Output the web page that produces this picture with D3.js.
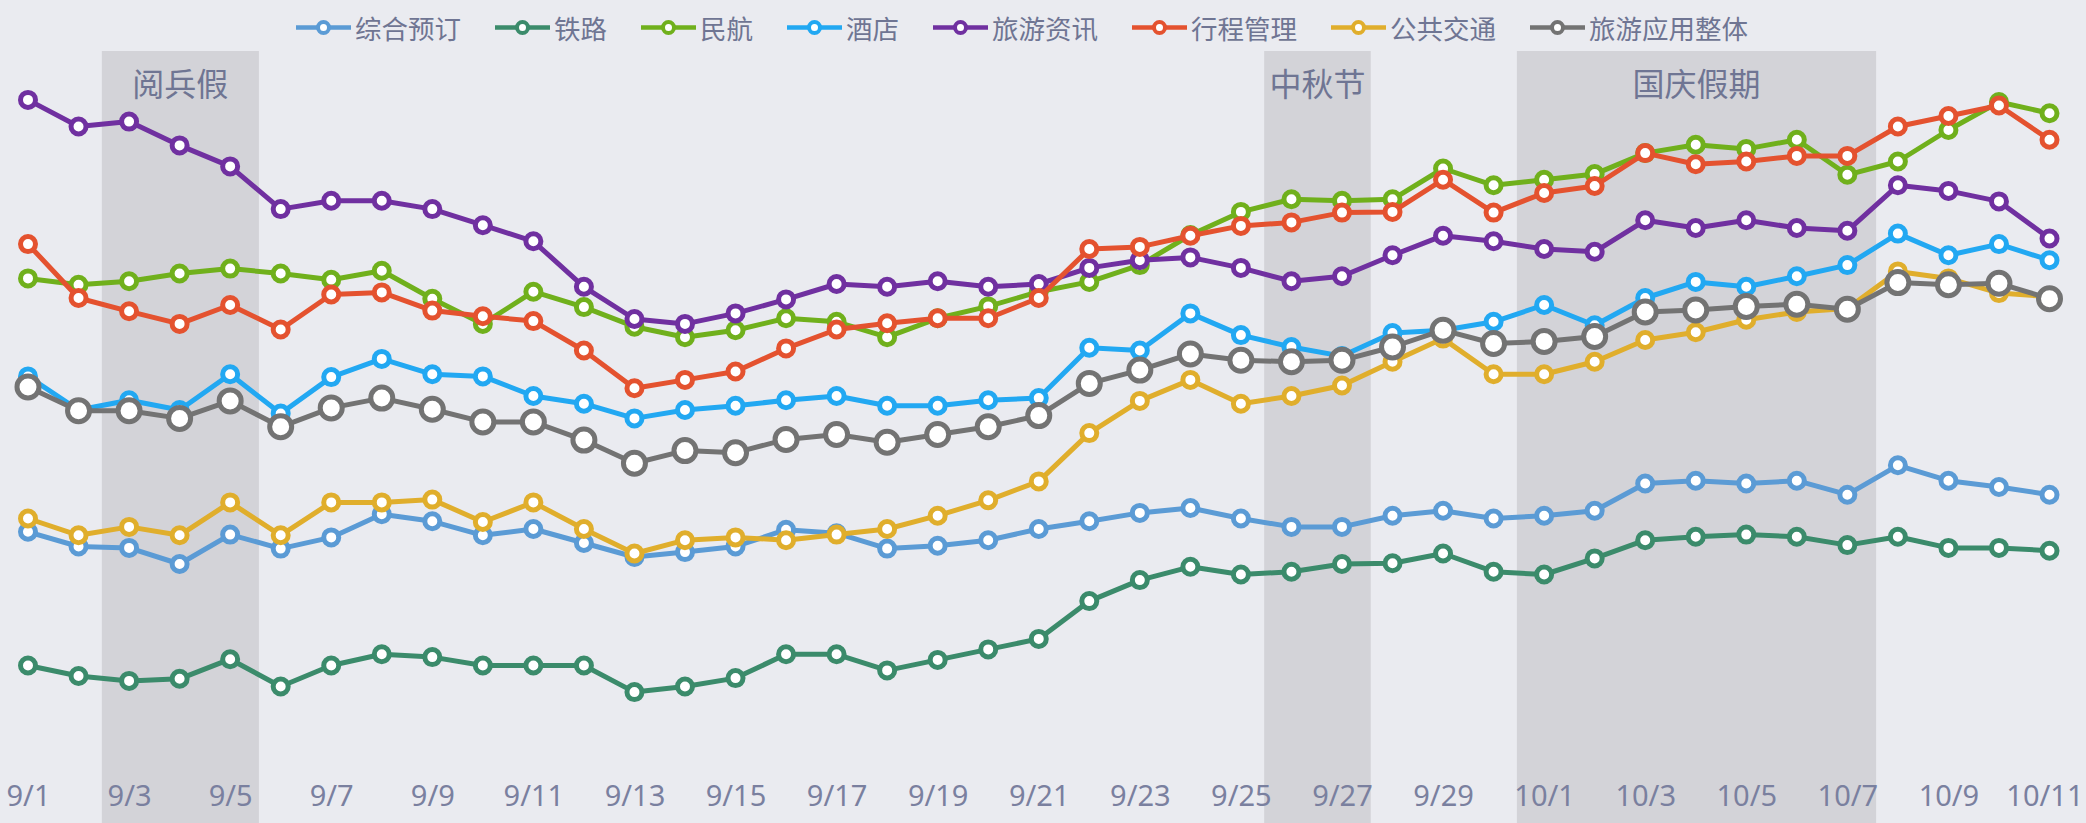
<!DOCTYPE html>
<html>
<head>
<meta charset="utf-8">
<script src="https://cdn.jsdelivr.net/npm/d3@7"></script>
<style>
  body { margin: 0; background: #eaebf0; overflow: hidden; }
</style>
</head>
<body>
<script>
const dates = ['9/1', '9/2', '9/3', '9/4', '9/5', '9/6', '9/7', '9/8', '9/9', '9/10',
  '9/11', '9/12', '9/13', '9/14', '9/15', '9/16', '9/17', '9/18', '9/19', '9/20',
  '9/21', '9/22', '9/23', '9/24', '9/25', '9/26', '9/27', '9/28', '9/29', '9/30',
  '10/1', '10/2', '10/3', '10/4', '10/5', '10/6', '10/7', '10/8', '10/9', '10/10', '10/11'];
const tickLabels = ['9/1', '9/3', '9/5', '9/7', '9/9', '9/11', '9/13', '9/15', '9/17', '9/19', '9/21',
  '9/23', '9/25', '9/27', '9/29', '10/1', '10/3', '10/5', '10/7', '10/9', '10/11'];

const seriesNames = ['综合预订', '铁路', '民航', '酒店', '旅游资讯', '行程管理', '公共交通', '旅游应用整体'];

const bookingVals = [32.6, 30.5, 30.3, 28.0, 32.2, 30.2, 31.8, 35.1, 34.1, 32.1, 33.0, 31.0, 29.0, 29.7, 30.5, 32.9, 32.4, 30.2, 30.6, 31.4,
  33.0, 34.1, 35.3, 36.0, 34.5, 33.3, 33.3, 34.9, 35.6, 34.5, 34.9, 35.6, 39.5, 39.9, 39.5, 39.9, 37.9, 42.1, 39.9, 39.0, 37.9];
const railVals = [13.5, 12.0, 11.3, 11.6, 14.4, 10.5, 13.5, 15.1, 14.7, 13.5, 13.5, 13.5, 9.7, 10.5, 11.7, 15.1, 15.1, 12.8, 14.3, 15.8,
  17.3, 22.7, 25.7, 27.6, 26.5, 26.9, 28.0, 28.1, 29.5, 26.9, 26.5, 28.8, 31.4, 31.9, 32.2, 31.9, 30.7, 31.9, 30.3, 30.3, 29.9];
const airVals = [68.8, 67.9, 68.4, 69.5, 70.2, 69.5, 68.6, 69.9, 65.9, 62.3, 66.9, 64.7, 61.9, 60.4, 61.4, 63.1, 62.6, 60.4, 63.1, 64.8,
  66.9, 68.3, 70.7, 75.0, 78.3, 80.1, 79.9, 80.1, 84.5, 82.1, 82.9, 83.7, 86.7, 87.9, 87.3, 88.6, 83.6, 85.5, 90.0, 94.0, 92.4];
const hotelVals = [54.8, 50.0, 51.4, 50.0, 55.1, 49.5, 54.7, 57.3, 55.1, 54.8, 52.0, 50.9, 48.8, 50.0, 50.6, 51.4, 52.0, 50.6, 50.6, 51.4,
  51.7, 58.9, 58.5, 63.8, 60.7, 59.0, 57.7, 61.0, 61.4, 62.6, 65.0, 62.1, 66.0, 68.3, 67.6, 69.1, 70.7, 75.2, 72.1, 73.7, 71.4];
const infoVals = [94.3, 90.5, 91.2, 87.8, 84.8, 78.7, 79.9, 79.9, 78.7, 76.4, 74.1, 67.6, 63.0, 62.3, 63.8, 65.8, 68.0, 67.6, 68.4, 67.6,
  68.0, 70.3, 71.4, 71.8, 70.3, 68.4, 69.1, 72.1, 74.9, 74.1, 73.0, 72.6, 77.1, 76.0, 77.1, 76.0, 75.6, 82.1, 81.3, 79.8, 74.5];
const tripVals = [73.7, 66.0, 64.1, 62.3, 65.0, 61.5, 66.5, 66.8, 64.2, 63.4, 62.7, 58.5, 53.1, 54.3, 55.5, 58.8, 61.5, 62.4, 63.1, 63.1,
  66.0, 73.0, 73.3, 74.9, 76.3, 76.8, 78.2, 78.3, 82.9, 78.2, 81.0, 82.0, 86.7, 85.1, 85.5, 86.3, 86.3, 90.5, 92.0, 93.5, 88.6];
const transitVals = [34.5, 32.1, 33.3, 32.1, 36.8, 32.1, 36.8, 36.8, 37.2, 34.0, 36.8, 33.0, 29.5, 31.4, 31.8, 31.4, 32.2, 33.0, 34.9, 37.1,
  39.8, 46.7, 51.3, 54.3, 50.9, 52.0, 53.5, 56.9, 60.2, 55.1, 55.1, 56.9, 60.0, 61.1, 62.9, 64.0, 64.5, 69.8, 68.8, 66.7, 66.2];
const overallVals = [53.3, 49.9, 49.9, 48.8, 51.3, 47.6, 50.3, 51.7, 50.1, 48.3, 48.3, 45.7, 42.4, 44.2, 43.9, 45.8, 46.5, 45.4, 46.5, 47.6,
  49.2, 53.8, 55.7, 58.0, 57.1, 56.9, 57.1, 59.0, 61.4, 59.5, 59.8, 60.5, 64.0, 64.3, 64.8, 65.1, 64.4, 68.2, 67.9, 68.1, 65.9];

const holidayNames = ['阅兵假', '中秋节', '国庆假期'];
const holidayStart = ['9/3', '9/26', '10/1'];
const holidayEnd = ['9/5', '9/27', '10/7'];

const colors = ['#5b9bd5', '#3b8b6b', '#70b01c', '#22a8f2', '#7030a0', '#e4522f', '#e0ae2c', '#737373'];

const width = 2086;
const height = 823;
const cjkFont = "'Noto Sans CJK SC', 'Noto Sans', sans-serif";
const textColor = '#6f7593';

const series = [bookingVals, railVals, airVals, hotelVals, infoVals, tripVals, transitVals, overallVals]
  .map((values, i) => ({name: seriesNames[i], color: colors[i], values, big: i === 7}));

const svg = d3.select('body').append('svg')
  .attr('width', width)
  .attr('height', height)
  .style('background-color', '#eaebf0');

const x = d3.scalePoint().domain(dates).range([28, 2049.5]);
const y = d3.scaleLinear().domain([0, 100]).range([760, 60]);
const half = x.step() / 2;

// holiday bands
const bands = svg.append('g');
holidayNames.forEach((name, i) => {
  const x0 = x(holidayStart[i]) - half - 2;
  const x1 = x(holidayEnd[i]) + half + 3.5;
  bands.append('rect')
    .attr('x', x0)
    .attr('y', 51)
    .attr('width', x1 - x0)
    .attr('height', height - 51)
    .attr('fill', '#d3d3d8');
  bands.append('text')
    .attr('x', (x0 + x1) / 2)
    .attr('y', 96)
    .attr('text-anchor', 'middle')
    .style('font', `32px ${cjkFont}`)
    .style('fill', textColor)
    .text(name);
});

// x axis
const axis = svg.append('g')
  .attr('transform', 'translate(0,806)')
  .call(d3.axisBottom(x).tickValues(tickLabels).tickSize(0));
axis.select('.domain').remove();
axis.selectAll('text')
  .attr('y', 0)
  .attr('dy', null)
  .style('font', "29px 'Noto Sans', sans-serif")
  .style('fill', '#7a809f');
// keep the last label inside the picture
axis.selectAll('text')
  .filter((d) => d === tickLabels[tickLabels.length - 1])
  .attr('text-anchor', 'end')
  .attr('x', width - 3 - x(tickLabels[tickLabels.length - 1]));

const line = d3.line()
  .x((d, i) => x(dates[i]))
  .y((d) => y(d));

series.forEach((s) => {
  const g = svg.append('g');
  g.append('path')
    .attr('d', line(s.values))
    .attr('fill', 'none')
    .attr('stroke', s.color)
    .attr('stroke-width', 5)
    .attr('stroke-linejoin', 'round');
  g.selectAll('circle')
    .data(s.values)
    .join('circle')
    .attr('cx', (d, i) => x(dates[i]))
    .attr('cy', (d) => y(d))
    .attr('r', s.big ? 11 : 7.5)
    .attr('fill', '#ffffff')
    .attr('stroke', s.color)
    .attr('stroke-width', 5);
});

// legend
const legend = svg.append('g').attr('transform', 'translate(0,27.5)');
let lx = 296;
series.forEach((s) => {
  legend.append('line')
    .attr('x1', lx)
    .attr('x2', lx + 55)
    .attr('y1', 0)
    .attr('y2', 0)
    .attr('stroke', s.color)
    .attr('stroke-width', 4.5);
  legend.append('circle')
    .attr('cx', lx + 27.5)
    .attr('cy', 0)
    .attr('r', 5.5)
    .attr('fill', '#ffffff')
    .attr('stroke', s.color)
    .attr('stroke-width', 4);
  const t = legend.append('text')
    .attr('x', lx + 59)
    .attr('y', 0)
    .attr('dominant-baseline', 'central')
    .style('font', `26.5px ${cjkFont}`)
    .style('fill', textColor)
    .text(s.name);
  lx += 59 + t.node().getComputedTextLength() + 34;
});
</script>
</body>
</html>
